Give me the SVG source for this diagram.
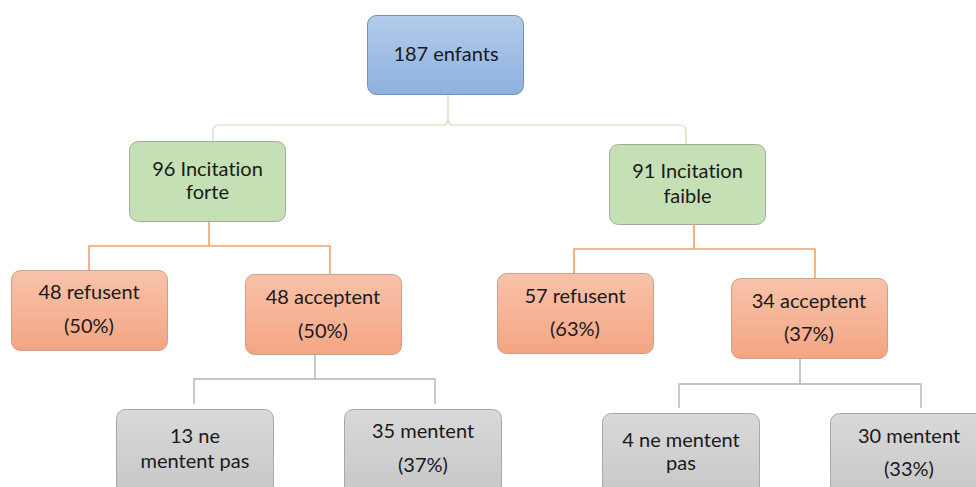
<svg xmlns="http://www.w3.org/2000/svg" width="976" height="487" viewBox="0 0 976 487">
<defs>
<linearGradient id="gBlue" x1="0" y1="0" x2="0" y2="1"><stop offset="0" stop-color="#b3cbe9"/><stop offset="1" stop-color="#8db1df"/></linearGradient>
<linearGradient id="gOrange" x1="0" y1="0" x2="0" y2="1"><stop offset="0" stop-color="#f8c3aa"/><stop offset="1" stop-color="#f4a583"/></linearGradient>
<linearGradient id="gGrey" x1="0" y1="0" x2="0" y2="1"><stop offset="0" stop-color="#d9d9d9"/><stop offset="1" stop-color="#c6c6c6"/></linearGradient>
</defs>
<style>
text{font-family:Lato,"Liberation Sans",sans-serif;font-size:20px;fill:#1a1a1a;text-anchor:middle;font-variant-ligatures:none;font-feature-settings:"liga" 0,"clig" 0,"dlig" 0}
.blue{fill:url(#gBlue);stroke:#7391b8;stroke-width:1}
.green{fill:#c5e0b4;stroke:#a1ad97;stroke-width:1}
.orange{fill:url(#gOrange);stroke:#c9a08e;stroke-width:1}
.grey{fill:url(#gGrey);stroke:#a8a8a8;stroke-width:1}
.cg{fill:none;stroke:#c6e0b5;stroke-width:1.2}
.co{fill:none;stroke:#f4a066;stroke-width:1.6}
.cy{fill:none;stroke:#b4b4b4;stroke-width:1.4}
</style>
<rect width="976" height="487" fill="#ffffff"/>
<g id="connectors">
<path class="cg" d="M448,95 V119 Q448,125 443,125 H219 Q213,125 213,131 V141"/>
<path class="cg" d="M448,119 Q448,125 453,125 H680 Q686,125 686,131 V144"/>
<path class="co" d="M209,222 V246 M89,270 V246 H330 V274"/>
<path class="co" d="M694,225 V249 M574,273 V249 H815 V278"/>
<path class="cy" d="M315,354 V379"/>
<path class="cy" d="M194,404 V379 H435 V404" stroke-width="1.2"/>
<path class="cy" d="M800,359 V384"/>
<path class="cy" d="M679,408 V384 H921 V408" stroke-width="1.2"/>
</g>
<g id="root"><rect class="blue" x="367.5" y="15.5" width="156" height="79" rx="9"/><text x="446" y="61">187 enfants</text></g>
<g id="forte"><rect class="green" x="129.5" y="141.5" width="156" height="80" rx="9"/><text x="207.5" y="176">96 Incitation</text><text x="207.5" y="199">forte</text></g>
<g id="faible"><rect class="green" x="609.5" y="144.5" width="156" height="80" rx="9"/><text x="687.5" y="178">91 Incitation</text><text x="687.5" y="203">faible</text></g>
<g id="refusent1"><rect class="orange" x="11.5" y="270.5" width="156" height="80" rx="9"/><text x="89" y="299">48 refusent</text><text x="89" y="333">(50%)</text></g>
<g id="acceptent1"><rect class="orange" x="245.5" y="274.5" width="156" height="80" rx="9"/><text x="323" y="304">48 acceptent</text><text x="323" y="338">(50%)</text></g>
<g id="refusent2"><rect class="orange" x="497.5" y="273.5" width="156" height="80" rx="9"/><text x="575" y="303">57 refusent</text><text x="575" y="336">(63%)</text></g>
<g id="acceptent2"><rect class="orange" x="731.5" y="278.5" width="156" height="80" rx="9"/><text x="809" y="308">34 acceptent</text><text x="809" y="341">(37%)</text></g>
<g id="nementent1"><rect class="grey" x="116.5" y="409.5" width="157" height="90" rx="9"/><text x="195" y="443">13 ne</text><text x="195" y="468">mentent pas</text></g>
<g id="mentent1"><rect class="grey" x="344.5" y="409.5" width="157" height="90" rx="9"/><text x="423" y="438">35 mentent</text><text x="423" y="472">(37%)</text></g>
<g id="nementent2"><rect class="grey" x="602.5" y="413.5" width="157" height="90" rx="9"/><text x="681" y="447">4 ne mentent</text><text x="681" y="470">pas</text></g>
<g id="mentent2"><rect class="grey" x="830.5" y="413.5" width="157" height="90" rx="9"/><text x="909" y="443">30 mentent</text><text x="909" y="476">(33%)</text></g>
</svg>
